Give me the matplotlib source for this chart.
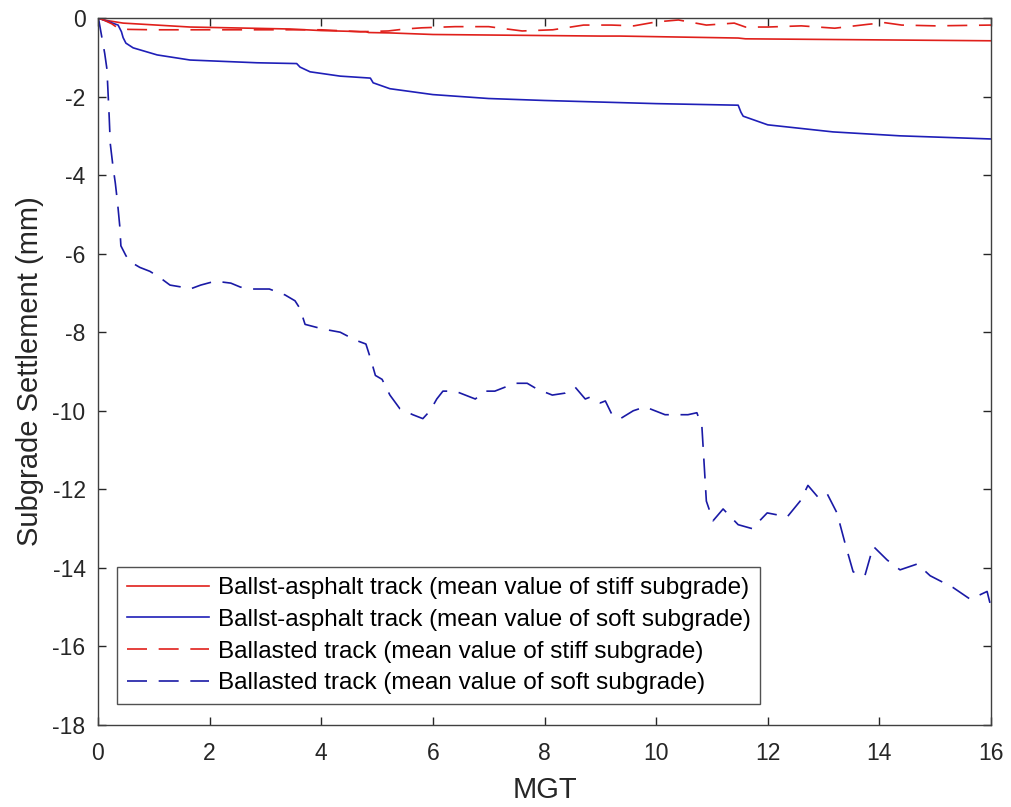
import matplotlib
matplotlib.use("Agg")
import matplotlib.pyplot as plt

plt.rcParams['font.family'] = ['Liberation Sans', 'DejaVu Sans']
plt.rcParams['axes.unicode_minus'] = False

# Ballast-asphalt track, stiff subgrade (red solid)
asph_stiff_x = [0, 0.1, 0.45, 1.65, 3.44, 4.0, 4.8, 4.85, 5.23, 6.0, 7.5, 9.0, 9.35, 11.47, 11.6, 16.0]
asph_stiff_y = [0, -0.05, -0.13, -0.23, -0.28, -0.32, -0.35, -0.37, -0.38, -0.42, -0.44, -0.46, -0.46, -0.51, -0.53, -0.58]

# Ballast-asphalt track, soft subgrade (blue solid)
asph_soft_x = [0, 0.2, 0.36, 0.42, 0.45, 0.5, 0.63, 1.06, 1.65, 2.85, 3.56, 3.62, 3.80, 4.34, 4.88, 4.93, 5.23,
               6.0, 7.0, 8.0, 9.0, 10.0, 11.47, 11.52, 11.56, 12.0, 13.17, 14.37, 16.0]
asph_soft_y = [0, -0.1, -0.18, -0.35, -0.5, -0.64, -0.76, -0.94, -1.07, -1.14, -1.16, -1.25, -1.37, -1.48, -1.53, -1.65, -1.80,
               -1.95, -2.05, -2.1, -2.14, -2.18, -2.22, -2.4, -2.5, -2.72, -2.9, -3.0, -3.08]

# Ballasted track, stiff subgrade (red dashed)
ball_stiff_x = [0, 0.1, 0.25, 0.35, 0.54, 1.0, 2.0, 3.0, 4.0, 4.7, 5.2, 5.5, 5.8, 6.4, 7.0, 7.6, 8.15, 8.7, 9.2,
                9.6, 10.0, 10.4, 10.9, 11.4, 11.6, 12.0, 12.6, 13.2, 13.8, 14.1, 14.4, 15.0, 16.0]
ball_stiff_y = [0, -0.05, -0.15, -0.25, -0.29, -0.3, -0.3, -0.3, -0.3, -0.35, -0.33, -0.28, -0.25, -0.22, -0.22, -0.33,
                -0.3, -0.18, -0.18, -0.2, -0.1, -0.05, -0.18, -0.13, -0.23, -0.23, -0.2, -0.26, -0.16, -0.12, -0.18,
                -0.2, -0.18]

# Ballasted track, soft subgrade (blue dashed)
ball_soft_x = [0.00, 0.02, 0.07, 0.12, 0.16, 0.18, 0.20, 0.22, 0.27, 0.31, 0.35, 0.39, 0.41, 0.50, 0.57, 0.75, 0.93,
               1.10, 1.29, 1.50, 1.65, 1.84,
               2.10, 2.38, 2.55, 2.72, 3.07, 3.35, 3.53, 3.62, 3.71, 3.98, 4.15, 4.34, 4.61, 4.80, 4.89, 4.97, 5.09,
               5.23, 5.41, 5.64, 5.82, 5.95, 6.07, 6.18, 6.40, 6.58, 6.76, 6.94, 7.11, 7.29, 7.47, 7.69, 7.87, 8.14,
               8.37, 8.55, 8.73, 8.82, 9.00, 9.09, 9.21, 9.36, 9.59, 9.80, 9.98, 10.16, 10.34, 10.57, 10.73, 10.82,
               10.90, 11.02, 11.20, 11.47, 11.72, 11.99, 12.35, 12.58, 12.72, 12.90, 13.06, 13.24, 13.39, 13.53,
               13.74, 13.89, 14.14, 14.37, 14.68, 14.91, 15.32, 15.63, 15.93, 16.0]
ball_soft_y = [0.0, -0.1, -0.5, -0.9, -1.3, -1.9, -2.5, -3.2, -3.8, -4.2, -4.7, -5.3, -5.8, -6.05, -6.2, -6.35, -6.45,
               -6.6, -6.8, -6.85, -6.9, -6.8,
               -6.7, -6.75, -6.85, -6.9, -6.9, -7.05, -7.2, -7.4, -7.8, -7.9, -7.95, -8.0, -8.2, -8.3, -8.7, -9.1, -9.2,
               -9.6, -9.95, -10.1, -10.2, -10.0, -9.7, -9.5, -9.5, -9.6, -9.7, -9.5, -9.5, -9.4, -9.3, -9.3, -9.45,
               -9.6, -9.55, -9.4, -9.7, -9.65, -9.8, -9.75, -10.1, -10.2, -10.0, -9.9, -10.0, -10.1, -10.1, -10.1,
               -10.05, -10.4, -12.3, -12.8, -12.5, -12.9, -13.0, -12.6, -12.7, -12.3, -11.9, -12.2, -12.1, -12.6,
               -13.4, -14.1, -14.2, -13.45, -13.8, -14.05, -13.9, -14.2, -14.5, -14.8, -14.6, -15.0]

labels = ["Ballst-asphalt track (mean value of stiff subgrade)",
          "Ballst-asphalt track (mean value of soft subgrade)",
          "Ballasted track (mean value of stiff subgrade)",
          "Ballasted track (mean value of soft subgrade)"]

x_ticks = list(range(0, 17, 2))
y_ticks = list(range(-18, 1, 2))

red = '#e0201b'
blue = '#1f1fb8'
navy = '#1a1aa6'
dash = (0, (12, 7))

fig = plt.figure(figsize=(10.11, 8.07), dpi=100)
ax = fig.add_axes([98/1011, 1 - 725/807, (991-98)/1011, (725-18)/807])

ax.plot(asph_stiff_x, asph_stiff_y, color=red, lw=1.2, label=labels[0])
ax.plot(asph_soft_x, asph_soft_y, color=blue, lw=1.2, label=labels[1])
ax.plot(ball_stiff_x, ball_stiff_y, color=red, lw=1.2, linestyle=dash, label=labels[2])
ax.plot(ball_soft_x, ball_soft_y, color=navy, lw=1.2, linestyle=dash, label=labels[3])

ax.set_xlim(0, 16)
ax.set_ylim(-18, 0)
ax.set_xticks(x_ticks)
ax.set_yticks(y_ticks)
ax.tick_params(direction='in', length=6, width=1, top=True, right=True,
               labelsize=16.5, colors='#262626')
ax.tick_params(axis='x', pad=12)
ax.tick_params(axis='y', pad=9)
for s in ax.spines.values():
    s.set_color('#404040')
    s.set_linewidth(1.0)

ax.set_xlabel("MGT", fontsize=21, color='#262626', labelpad=8)
ax.set_ylabel("Subgrade Settlement (mm)", fontsize=21, color='#262626', labelpad=6)

leg = ax.legend(loc='lower left', bbox_to_anchor=(19/893, 21/707), fontsize=17.5, frameon=True,
                fancybox=False, edgecolor='#262626', handlelength=3.4, handletextpad=0.35,
                labelspacing=0.4, borderpad=0.4, borderaxespad=0)
leg.get_frame().set_linewidth(1.0)

fig.savefig("out.png", dpi=100)
